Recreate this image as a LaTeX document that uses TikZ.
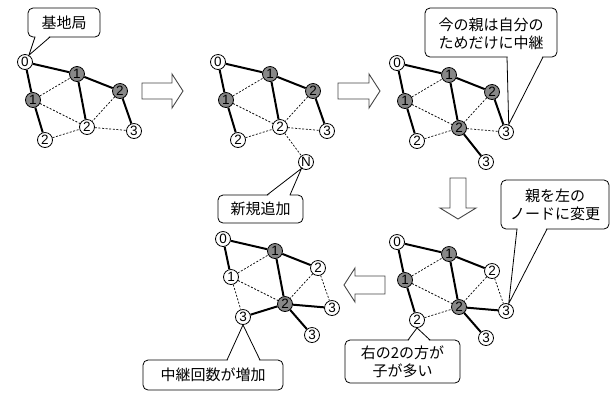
\documentclass[tikz,border=0pt]{standalone}
\usepackage{fontspec}
\setmainfont{Liberation Sans}
\newfontfamily\jp{Noto Sans CJK JP}
\usetikzlibrary{calc}
\definecolor{nodegray}{RGB}{136,136,136}
\definecolor{arrowline}{RGB}{70,70,70}
\tikzset{
  wn/.style={circle,draw,fill=white,inner sep=0pt,minimum size=15pt,line width=0.8pt,font=\fontsize{13.5}{13.5}\selectfont},
  gn/.style={wn,fill=nodegray},
  thk/.style={line width=2pt},
  dsh/.style={line width=0.7pt,dash pattern=on 2pt off 1.6pt},
  bigarrow/.style={draw=arrowline,line width=0.9pt,fill=white,line join=miter},
  cbox/.style={draw,line width=0.8pt,fill=white,rounded corners=5pt},
  ctext/.style={font=\jp\fontsize{15}{18}\selectfont,align=center,inner sep=0pt},
  cline/.style={line width=0.8pt},
}
\begin{document}
\begin{tikzpicture}[x=1pt,y=-1pt]
\useasboundingbox (0,0) rectangle (612,392);

% ---------- Graph 1 ----------
\begin{scope}[shift={(25,62)}]
\node[wn] (a0) at (0,0) {0};
\node[gn] (a1t) at (52,12) {1};
\node[gn] (a2t) at (95,29) {2};
\node[gn] (a1l) at (8,38) {1};
\node[wn] (a2m) at (62,65) {2};
\node[wn] (a3r) at (109,69) {3};
\node[wn] (a2b) at (20,78) {2};
\end{scope}
\draw[thk] (a0)--(a1t) (a1t)--(a2t) (a0)--(a1l) (a1l)--(a2b) (a1t)--(a2m) (a2t)--(a3r);
\draw[dsh] (a1l)--(a1t) (a1l)--(a2m) (a2t)--(a2m) (a2b)--(a2m) (a2m)--(a3r);

% ---------- Graph 2 ----------
\begin{scope}[shift={(218,62)}]
\node[wn] (b0) at (0,0) {0};
\node[gn] (b1t) at (52,12) {1};
\node[gn] (b2t) at (95,29) {2};
\node[gn] (b1l) at (8,38) {1};
\node[wn] (b2m) at (62,65) {2};
\node[wn] (b3r) at (109,69) {3};
\node[wn] (b2b) at (20,78) {2};
\node[wn] (bN) at (88,100) {N};
\end{scope}
\draw[thk] (b0)--(b1t) (b1t)--(b2t) (b0)--(b1l) (b1l)--(b2b) (b1t)--(b2m) (b2t)--(b3r);
\draw[dsh] (b1l)--(b1t) (b1l)--(b2m) (b2t)--(b2m) (b2b)--(b2m) (b2m)--(b3r) (b2m)--(bN);

% ---------- Graph 3 ----------
\begin{scope}[shift={(397,63)}]
\node[wn] (c0) at (0,0) {0};
\node[gn] (c1t) at (52,12) {1};
\node[gn] (c2t) at (95,29) {2};
\node[gn] (c1l) at (8,38) {1};
\node[gn] (c2m) at (62,65) {2};
\node[wn] (c3r) at (109,69) {3};
\node[wn] (c2b) at (20,78) {2};
\node[wn] (c3b) at (89,99) {3};
\end{scope}
\draw[thk] (c0)--(c1t) (c1t)--(c2t) (c0)--(c1l) (c1l)--(c2b) (c1t)--(c2m) (c2t)--(c3r) (c2m)--(c3b);
\draw[dsh] (c1l)--(c1t) (c1l)--(c2m) (c2t)--(c2m) (c2b)--(c2m) (c2m)--(c3r);

% ---------- Graph 4 ----------
\begin{scope}[shift={(397,242)}]
\node[wn] (d0) at (0,0) {0};
\node[gn] (d1t) at (52,12) {1};
\node[wn] (d2t) at (95,29) {2};
\node[gn] (d1l) at (8,38) {1};
\node[gn] (d2m) at (62,65) {2};
\node[wn] (d3r) at (109,69) {3};
\node[wn] (d2b) at (20,78) {2};
\node[wn] (d3b) at (89,96) {3};
\end{scope}
\draw[thk] (d0)--(d1t) (d1t)--(d2t) (d0)--(d1l) (d1l)--(d2b) (d1t)--(d2m) (d2m)--(d3r) (d2m)--(d3b);
\draw[dsh] (d1l)--(d1t) (d1l)--(d2m) (d2t)--(d2m) (d2b)--(d2m) (d2t)--(d3r);

% ---------- Graph 5 ----------
\begin{scope}[shift={(223,239)}]
\node[wn] (e0) at (0,0) {0};
\node[gn] (e1t) at (52,12) {1};
\node[wn] (e2t) at (95,29) {2};
\node[wn] (e1l) at (8,38) {1};
\node[gn] (e2m) at (62,65) {2};
\node[wn] (e3r) at (109,69) {3};
\node[wn] (e3l) at (20,78) {3};
\node[wn] (e3b) at (89,96) {3};
\end{scope}
\draw[thk] (e0)--(e1t) (e1t)--(e2t) (e0)--(e1l) (e1t)--(e2m) (e2m)--(e3r) (e2m)--(e3b) (e2m)--(e3l);
\draw[dsh] (e1l)--(e1t) (e1l)--(e2m) (e2t)--(e2m) (e2t)--(e3r) (e1l)--(e3l);

% ---------- big arrows ----------
\draw[bigarrow] (142,83)--(172,83)--(172,74)--(183,91)--(172,108)--(172,99)--(142,99)--cycle;
\draw[bigarrow] (338,83)--(369,83)--(369,74)--(380,91)--(369,108)--(369,99)--(338,99)--cycle;
\draw[bigarrow] (450,178)--(466,178)--(466,208)--(476,208)--(458,219)--(440,208)--(450,208)--cycle;
\draw[bigarrow] (385,276)--(355,276)--(355,268)--(344,285)--(355,302)--(355,294)--(385,294)--cycle;

% ---------- callouts ----------
% 1: 基地局
\draw[cbox] (28,8) rectangle (100,37);
\node[ctext] (t1) at (64,22.5) {基地局};
\fill[white] (35.6,36) -- (a0.60) -- (49.4,36) -- cycle;
\draw[cline] (35,37) -- (a0.60) -- (50,37);

% 2: 新規追加
\draw[cbox] (218,195) rectangle (303,223);
\node[ctext] (t2) at (260.5,209) {新規追加};
\fill[white] (267.6,196) -- (bN.235) -- (289.4,196) -- cycle;
\draw[cline] (267,195) -- (bN.235) -- (290,195);

% 3: 今の親は自分の ためだけに中継
\draw[cbox] (425,8) rectangle (557,57);
\node[ctext] (t3) at (491,34) {今の親は自分の\\ためだけに中継};
\fill[white] (507.6,56) -- (c3r.70) -- (542.4,56) -- cycle;
\draw[cline] (507,57) -- (c3r.70) -- (543,57);

% 4: 親を左の ノードに変更
\draw[cbox] (501,180) rectangle (609,229);
\node[ctext] (t4) at (555,204.5) {親を左の\\ノードに変更};
\fill[white] (517.6,228) -- (d3r.70) -- (546.4,228) -- cycle;
\draw[cline] (517,229) -- (d3r.70) -- (547,229);

% 5: 右の2の方が 子が多い
\draw[cbox] (345,340) rectangle (460,383);
\node[ctext] (t5) at (402.5,361.5) {右の2の方が\\子が多い};
\fill[white] (408.6,341) -- (d2b.south) -- (429.4,341) -- cycle;
\draw[cline] (408,340) -- (d2b.south) -- (430,340);

% 6: 中継回数が増加
\draw[cbox] (143,360) rectangle (283,390);
\node[ctext] (t6) at (213,375) {中継回数が増加};
\fill[white] (227.6,361) -- (e3l.south) -- (259.4,361) -- cycle;
\draw[cline] (227,360) -- (e3l.south) -- (260,360);
\end{tikzpicture}
\end{document}
